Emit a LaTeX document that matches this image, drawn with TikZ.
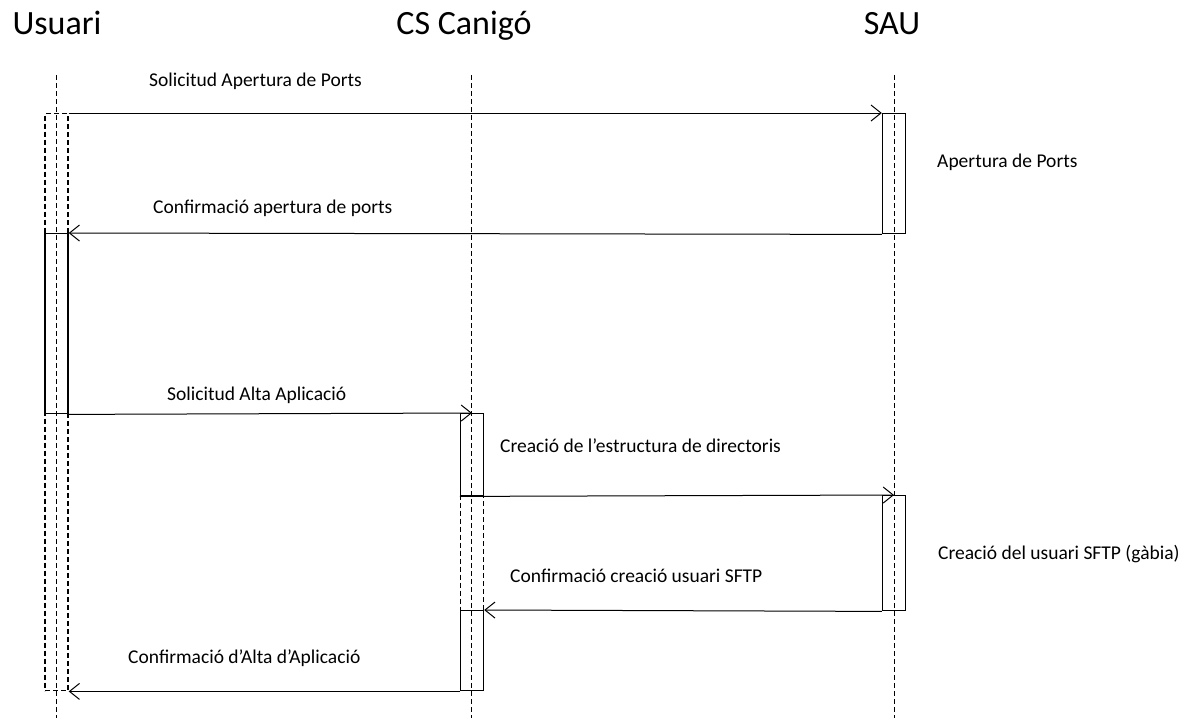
\documentclass[tikz,border=0pt]{standalone}
\usepackage{fontspec}
\setmainfont{Carlito}
\usetikzlibrary{arrows.meta}
\tikzset{
    lifeline/.style={line width=0.9pt,dash pattern=on 5pt off 3pt},
    act/.style={draw,line width=1.4pt,minimum width=23pt,inner sep=0pt,anchor=north},
    actdash/.style={act,dash pattern=on 5pt off 3pt},
    msg/.style={line width=1pt,->},
    lbl/.style={anchor=base west,inner sep=0pt,font=\fontsize{19.5}{23}\selectfont},
    head/.style={anchor=base,inner sep=0pt,font=\fontsize{34}{40}\selectfont}
}
\begin{document}
\begin{tikzpicture}[x=1pt,y=-1pt,>={Straight Barb[length=10pt,width=16pt,line width=1pt]}]
        \useasboundingbox (0,0) rectangle (1191,724);
        %% Heads
        \node[head] (usuari) at (57,34) {Usuari};
        \node[head] (canigo) at (464,34) {CS Canigó};
        \node[head] (sau) at (892,34) {SAU};
        %% Lifelines
        \coordinate (ut) at (56,75);  \coordinate (ub) at (56,718);
        \coordinate (ct) at (471,75); \coordinate (cb) at (471,718);
        \coordinate (st) at (894,75); \coordinate (sb) at (894,718);
        \draw[lifeline] (ut) -- (ub);
        \draw[lifeline] (ct) -- (cb);
        \draw[lifeline] (st) -- (sb);
        %% Activations
        \node[actdash,minimum height=120pt] (u1) at (56.5,113) {};
        \node[act,minimum height=180pt] (u2) at (56.5,233) {};
        \node[actdash,minimum height=277pt] (u3) at (56.5,413) {};
        \node[act,minimum height=82pt] (c1) at (472,413) {};
        \node[actdash,minimum height=115pt] (c2) at (472,495) {};
        \node[act,minimum height=80pt] (c3) at (472,610) {};
        \node[act,minimum height=120pt] (s1) at (894,113) {};
        \node[act,minimum height=115pt] (s2) at (894,495) {};
        %% Messages
        \draw[msg] (u1.north east) -- (s1.north west);
        \draw[msg] (s1.south west) -- (u2.north east);
        \draw[msg] (u2.south east) -- (c1.north);
        \draw[msg] (c1.south west) -- (s2.north);
        \draw[msg] (s2.south west) -- (c3.north east);
        \draw[msg] (c3.south west) -- (u3.south east);
        %% Labels
        \node[lbl] (m1) at (149,86) {Solicitud Apertura de Ports};
        \node[lbl] (a1) at (937,167) {Apertura de Ports};
        \node[lbl] (m2) at (153,213) {Confirmació apertura de ports};
        \node[lbl] (m3) at (167,400) {Solicitud Alta Aplicació};
        \node[lbl] (a2) at (500,452) {Creació de l’estructura de directoris};
        \node[lbl] (a3) at (938,559) {Creació del usuari SFTP (gàbia)};
        \node[lbl] (m5) at (510,582) {Confirmació creació usuari SFTP};
        \node[lbl] (m6) at (128,663) {Confirmació d’Alta d’Aplicació};
    \end{tikzpicture}
\end{document}
